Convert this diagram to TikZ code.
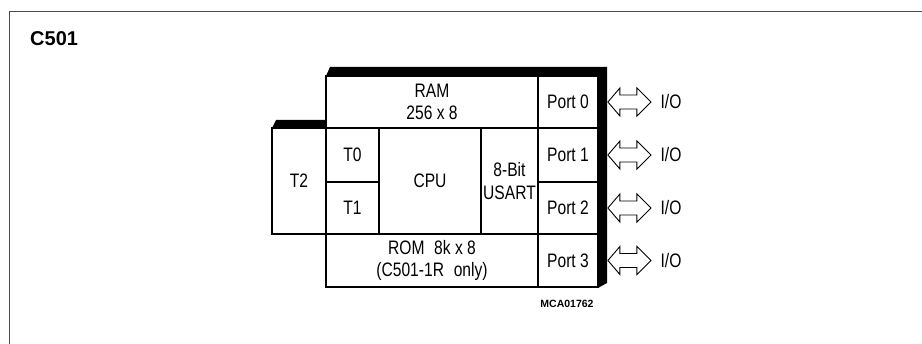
\documentclass[tikz,border=0pt]{standalone}
\usepackage{fontspec}
\setmainfont{Liberation Sans}
\newfontfamily\condfont[FakeStretch=0.8]{Liberation Sans}
\begin{document}
\begin{tikzpicture}[x=1pt,y=-1pt,
  blk/.style={draw, line width=1.8pt, inner sep=0pt, align=center,
    font=\condfont\fontsize{19.5}{22.5}\selectfont},
  lbl/.style={inner sep=0pt, font=\condfont\fontsize{19.5}{22}\selectfont},
  dblarrow/.style={draw, line width=0.9pt, line join=miter}]
\useasboundingbox (0,0) rectangle (922,344);
% frame
\draw[line width=1pt, black!70] (9,344) -- (9,11.5) -- (922,11.5);
\node[anchor=west, inner sep=0pt, font=\fontsize{20}{24}\selectfont\bfseries] (title) at (30,39) {C501};
% boxes
\node[blk, minimum width=212pt, minimum height=52pt] (ram) at (432,102) {RAM\\256 x 8};
\node[blk, minimum width=54pt, minimum height=106pt] (t2) at (299,181) {T2};
\node[blk, minimum width=53pt, minimum height=54pt] (t0) at (352.5,155) {T0};
\node[blk, minimum width=53pt, minimum height=52pt] (t1) at (352.5,208) {T1};
\node[blk, minimum width=102pt, minimum height=106pt] (cpu) at (430,181) {CPU};
\node[blk, minimum width=57pt, minimum height=106pt] (usart) at (509.5,181) {8-Bit\\USART};
\node[blk, minimum width=212pt, minimum height=53pt] (rom) at (432,260.5) {ROM\hspace{0.5em}8k x 8\\(C501-1R\hspace{0.5em}only)};
\node[blk, minimum width=60pt, minimum height=52pt] (p0) at (568,102) {Port 0};
\node[blk, minimum width=60pt, minimum height=54pt] (p1) at (568,155) {Port 1};
\node[blk, minimum width=60pt, minimum height=52pt] (p2) at (568,208) {Port 2};
\node[blk, minimum width=60pt, minimum height=53pt] (p3) at (568,260.5) {Port 3};
% thick shadow bars
\fill (326,76) -- (330,67) -- (607,67) -- (607,283) -- (598,288) -- (598,76) -- cycle;
\fill (272,128) -- (276,120) -- (326,120) -- (326,128) -- cycle;
% I/O labels and double arrows
\foreach \i/\y in {0/102,1/155,2/208,3/260.5}{
  \node[lbl] (io\i) at (671,\y) {I/O};
  \draw[dblarrow] ([xshift=9pt]p\i.east) -- ++(12,-14) -- ++(0,7) -- ++(17,0) -- ++(0,-7)
    -- ++(14,14) -- ++(-14,14) -- ++(0,-7) -- ++(-17,0) -- ++(0,7) -- cycle;
}
\node[inner sep=0pt, font=\fontsize{10.5}{12}\selectfont\bfseries] (code) at (567,304) {MCA01762};
\end{tikzpicture}
\end{document}
